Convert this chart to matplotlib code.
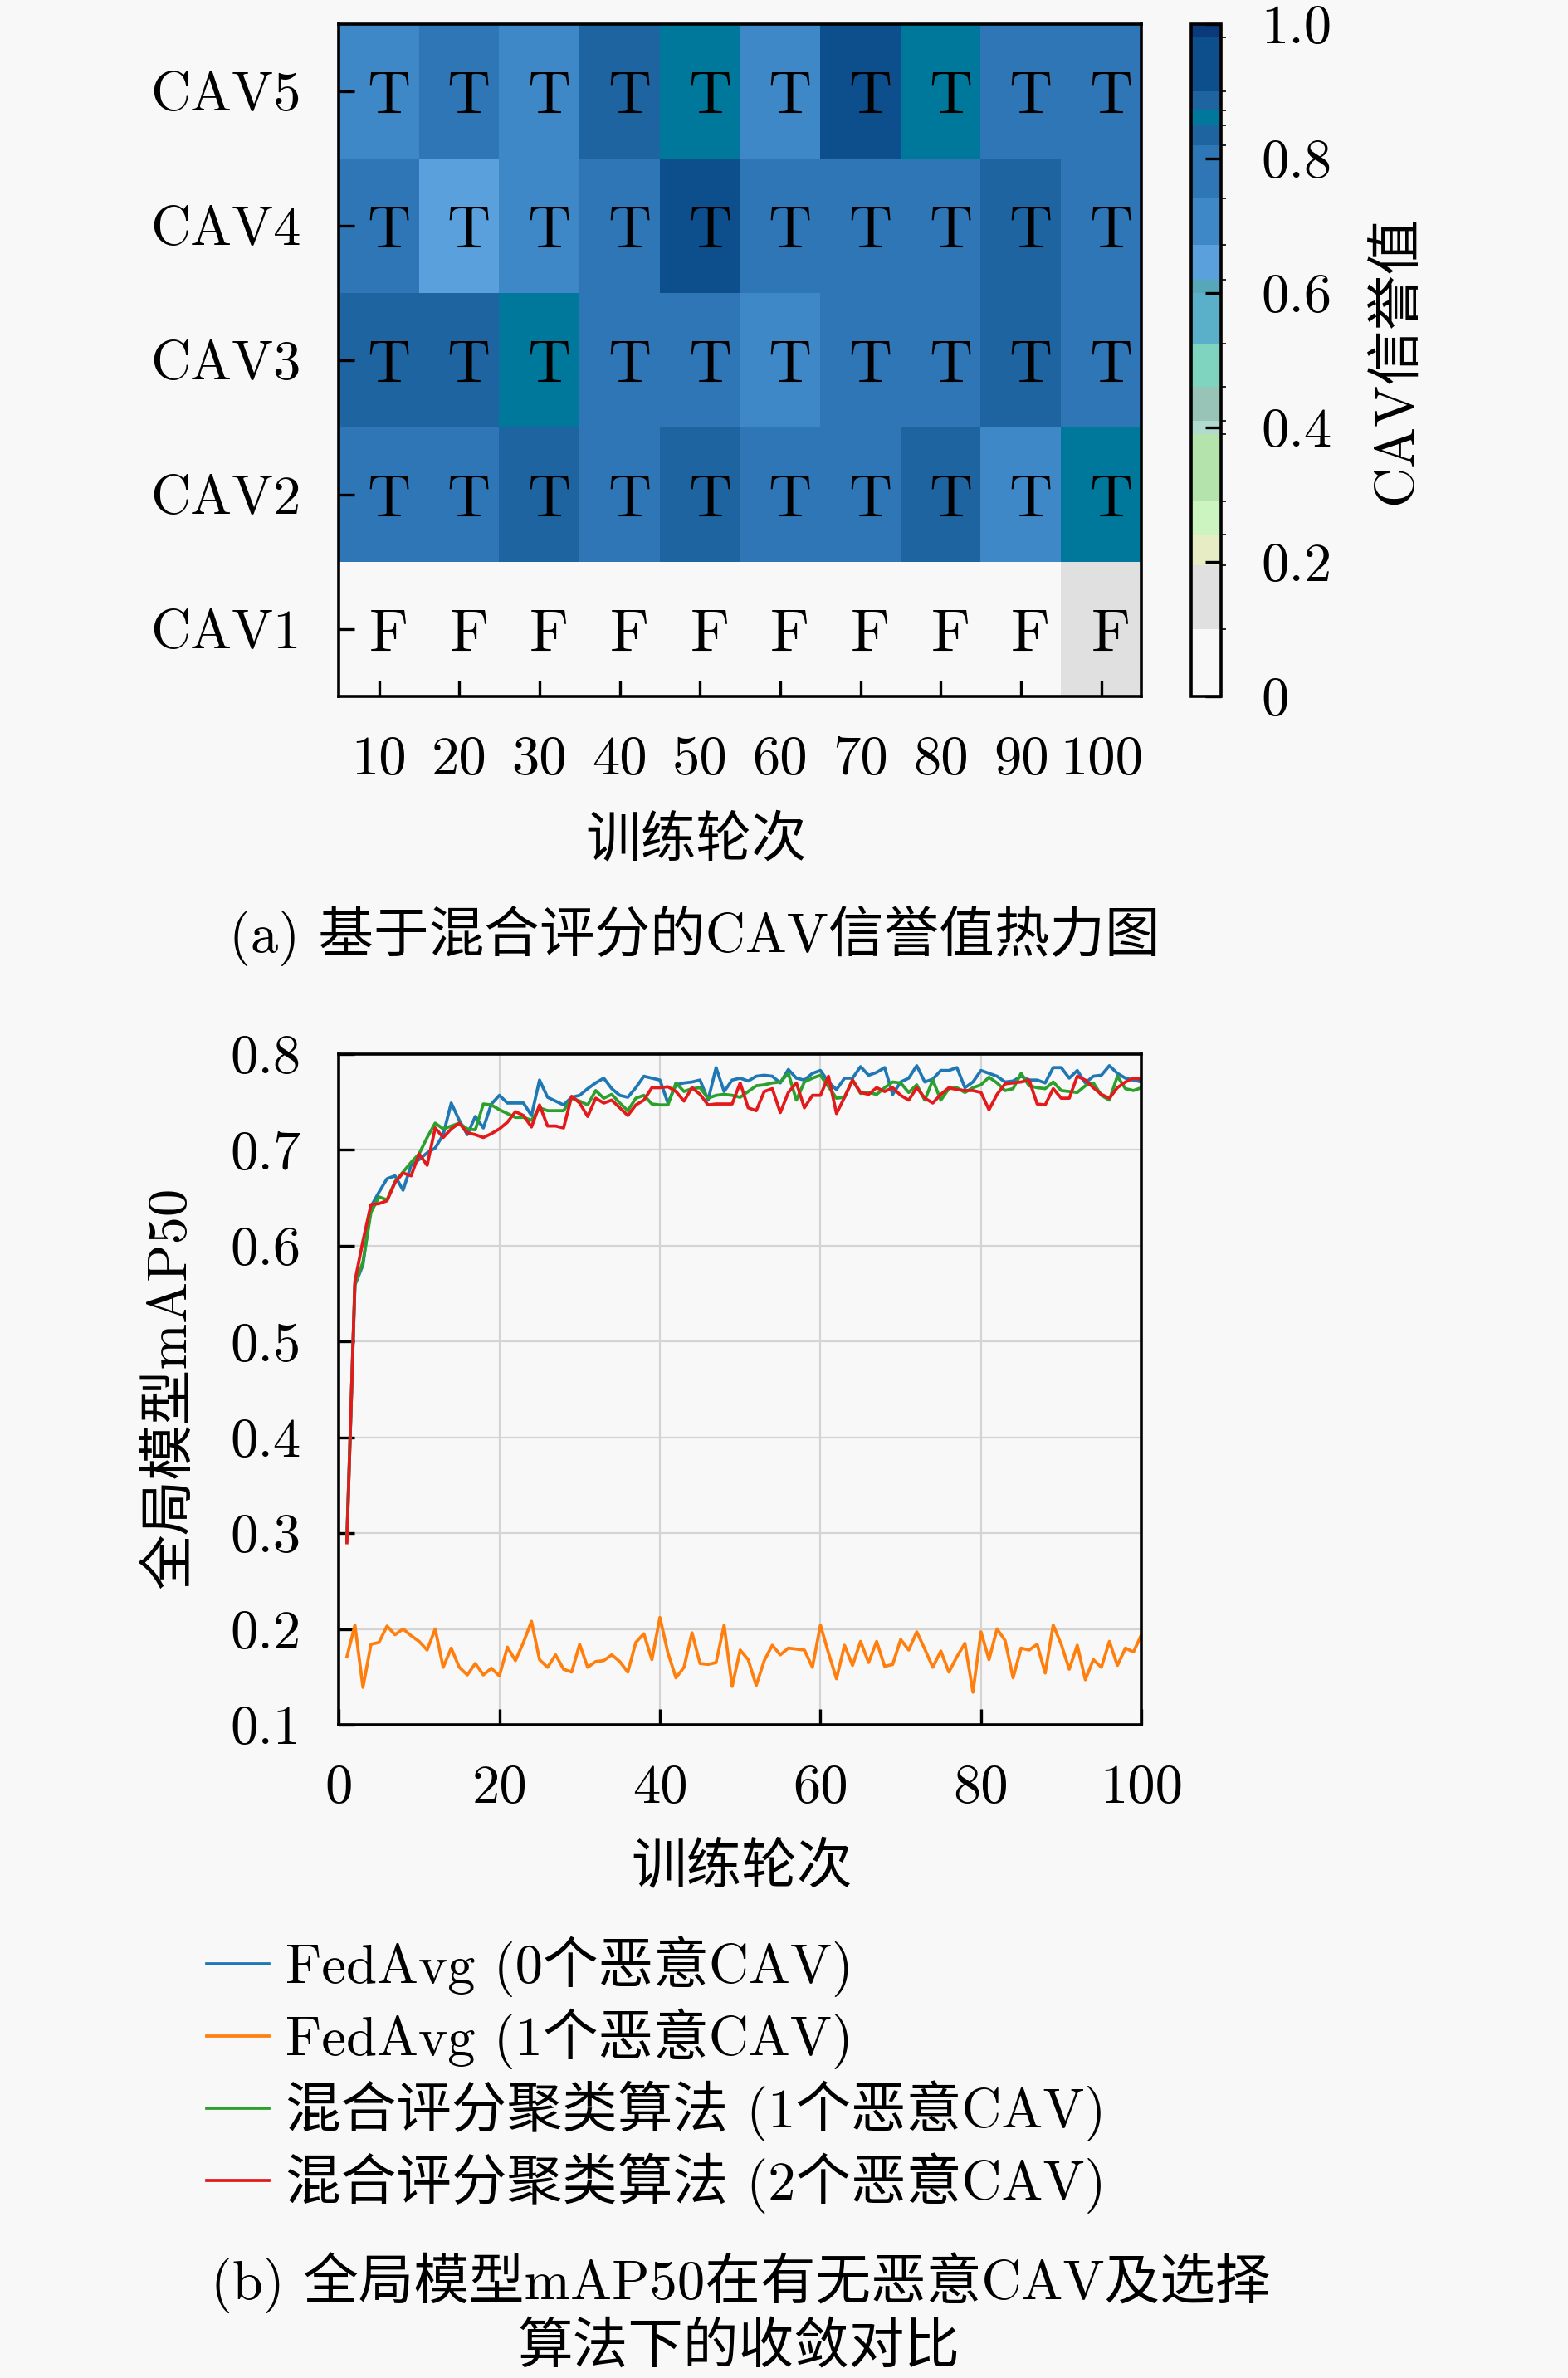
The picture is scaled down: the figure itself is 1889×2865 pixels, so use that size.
import matplotlib
matplotlib.use('Agg')
import matplotlib.pyplot as plt
from matplotlib.colors import ListedColormap, BoundaryNorm

plt.rcParams['font.family'] = ['cmr10', 'Noto Sans CJK SC']
plt.rcParams['axes.formatter.use_mathtext'] = True
plt.rcParams['mathtext.fontset'] = 'cm'
plt.rcParams['axes.unicode_minus'] = False

# ---- (a) heatmap data ----
rounds = [10, 20, 30, 40, 50, 60, 70, 80, 90, 100]
cav_names = ['CAV5', 'CAV4', 'CAV3', 'CAV2', 'CAV1']
rep_cav5 = [0.70, 0.78, 0.70, 0.835, 0.86, 0.70, 0.94, 0.86, 0.78, 0.78]
rep_cav4 = [0.78, 0.65, 0.70, 0.78, 0.94, 0.78, 0.78, 0.78, 0.835, 0.78]
rep_cav3 = [0.835, 0.835, 0.86, 0.78, 0.78, 0.70, 0.78, 0.78, 0.835, 0.78]
rep_cav2 = [0.78, 0.78, 0.835, 0.78, 0.835, 0.78, 0.78, 0.835, 0.70, 0.86]
rep_cav1 = [0.05, 0.05, 0.05, 0.05, 0.05, 0.05, 0.05, 0.05, 0.05, 0.15]
flag_cav5 = ['T'] * 10
flag_cav4 = ['T'] * 10
flag_cav3 = ['T'] * 10
flag_cav2 = ['T'] * 10
flag_cav1 = ['F'] * 10

# colour scale
cb_bounds = [0, 0.1, 0.195, 0.24, 0.29, 0.39, 0.41, 0.46, 0.525, 0.60, 0.62,
             0.672, 0.741, 0.82, 0.849, 0.872, 0.90, 0.98, 1.0]
cb_colors = ['#f8f8f8', '#e0e0e0', '#e8ecc4', '#ccf4c0', '#b4e4ac', '#b0dcd0',
             '#98c4b8', '#7ed4be', '#5ab0c8', '#56a8b8', '#5aa0dc', '#3f88c8',
             '#2f76b6', '#1d64a0', '#00789c', '#1d64a0', '#0c4f8c', '#0a3a7a']

# ---- (b) mAP50 curves ----
epochs = list(range(1, 101))
fedavg_0 = [0.295, 0.559, 0.580, 0.641, 0.656, 0.670, 0.673, 0.658, 0.684, 0.690,
            0.697, 0.702, 0.716, 0.749, 0.731, 0.716, 0.735, 0.723, 0.748, 0.757,
            0.749, 0.749, 0.749, 0.736, 0.773, 0.755, 0.751, 0.747, 0.755, 0.757,
            0.764, 0.770, 0.775, 0.764, 0.757, 0.755, 0.765, 0.777, 0.775, 0.773,
            0.749, 0.768, 0.770, 0.771, 0.773, 0.752, 0.786, 0.761, 0.773, 0.775,
            0.772, 0.777, 0.778, 0.777, 0.770, 0.784, 0.775, 0.773, 0.780, 0.783,
            0.771, 0.763, 0.775, 0.775, 0.787, 0.778, 0.781, 0.786, 0.758, 0.771,
            0.775, 0.788, 0.771, 0.774, 0.783, 0.783, 0.786, 0.765, 0.771, 0.783,
            0.780, 0.777, 0.771, 0.772, 0.777, 0.773, 0.773, 0.770, 0.786, 0.786,
            0.775, 0.783, 0.770, 0.777, 0.778, 0.788, 0.780, 0.775, 0.773, 0.771]
fedavg_1 = [0.171, 0.204, 0.139, 0.184, 0.186, 0.203, 0.194, 0.200, 0.193, 0.187,
            0.178, 0.200, 0.160, 0.180, 0.160, 0.152, 0.164, 0.152, 0.159, 0.151,
            0.181, 0.167, 0.186, 0.208, 0.168, 0.160, 0.173, 0.158, 0.155, 0.184,
            0.160, 0.166, 0.167, 0.173, 0.166, 0.155, 0.186, 0.195, 0.168, 0.212,
            0.175, 0.149, 0.160, 0.196, 0.164, 0.163, 0.165, 0.204, 0.140, 0.178,
            0.168, 0.141, 0.167, 0.183, 0.173, 0.180, 0.179, 0.178, 0.160, 0.204,
            0.175, 0.148, 0.183, 0.162, 0.187, 0.165, 0.187, 0.161, 0.163, 0.189,
            0.178, 0.197, 0.179, 0.160, 0.177, 0.155, 0.171, 0.185, 0.134, 0.197,
            0.168, 0.200, 0.188, 0.149, 0.180, 0.178, 0.184, 0.154, 0.204, 0.184,
            0.158, 0.183, 0.147, 0.168, 0.160, 0.187, 0.162, 0.180, 0.176, 0.194]
hybrid_1 = [0.292, 0.560, 0.583, 0.635, 0.651, 0.648, 0.667, 0.677, 0.687, 0.696,
            0.713, 0.728, 0.722, 0.725, 0.728, 0.722, 0.721, 0.748, 0.747, 0.742,
            0.738, 0.734, 0.734, 0.731, 0.744, 0.741, 0.741, 0.741, 0.754, 0.751,
            0.747, 0.762, 0.754, 0.758, 0.749, 0.741, 0.754, 0.757, 0.748, 0.747,
            0.747, 0.770, 0.761, 0.764, 0.765, 0.754, 0.757, 0.758, 0.757, 0.755,
            0.761, 0.767, 0.768, 0.770, 0.771, 0.780, 0.752, 0.771, 0.775, 0.778,
            0.766, 0.754, 0.755, 0.773, 0.759, 0.760, 0.758, 0.765, 0.771, 0.770,
            0.760, 0.768, 0.752, 0.773, 0.752, 0.764, 0.765, 0.760, 0.765, 0.768,
            0.776, 0.770, 0.762, 0.764, 0.780, 0.767, 0.765, 0.764, 0.771, 0.762,
            0.761, 0.760, 0.767, 0.770, 0.757, 0.752, 0.777, 0.764, 0.762, 0.765]
hybrid_2 = [0.290, 0.563, 0.605, 0.643, 0.644, 0.647, 0.666, 0.676, 0.673, 0.696,
            0.684, 0.723, 0.713, 0.722, 0.728, 0.718, 0.716, 0.713, 0.717, 0.722,
            0.729, 0.740, 0.736, 0.724, 0.747, 0.725, 0.725, 0.723, 0.756, 0.749,
            0.735, 0.754, 0.749, 0.752, 0.744, 0.736, 0.747, 0.752, 0.765, 0.765,
            0.766, 0.761, 0.751, 0.765, 0.758, 0.747, 0.748, 0.748, 0.748, 0.770,
            0.744, 0.741, 0.761, 0.764, 0.739, 0.760, 0.770, 0.744, 0.757, 0.757,
            0.777, 0.738, 0.755, 0.773, 0.760, 0.758, 0.765, 0.761, 0.765, 0.757,
            0.752, 0.765, 0.754, 0.749, 0.758, 0.765, 0.763, 0.762, 0.762, 0.760,
            0.742, 0.758, 0.769, 0.770, 0.771, 0.773, 0.748, 0.747, 0.764, 0.754,
            0.754, 0.777, 0.773, 0.765, 0.758, 0.754, 0.765, 0.771, 0.775, 0.774]
series_labels = ['FedAvg (0个恶意CAV)', 'FedAvg (1个恶意CAV)',
                 '混合评分聚类算法 (1个恶意CAV)', '混合评分聚类算法 (2个恶意CAV)']
series_colors = ['#1f77b4', '#ff7f0e', '#2ca02c', '#e31a1c']

bg = '#f8f8f8'
fs = 24

fig = plt.figure(figsize=(9.45, 14.325), dpi=200, facecolor=bg)

# ---------------- heatmap ----------------
rep = [rep_cav5, rep_cav4, rep_cav3, rep_cav2, rep_cav1]
flags = [flag_cav5, flag_cav4, flag_cav3, flag_cav2, flag_cav1]
cmap = ListedColormap(cb_colors)
norm = BoundaryNorm(cb_bounds, cmap.N)

ax1 = fig.add_axes([0.216, 0.7072, 0.5116, 0.2827])
im = ax1.imshow(rep, cmap=cmap, norm=norm, aspect='auto', interpolation='nearest')
for i in range(len(cav_names)):
    for j in range(len(rounds)):
        # the letters sit a little right of the cell centres in the original
        ax1.text(j + 0.12, i + 0.01, flags[i][j], ha='center', va='center_baseline',
                 fontsize=26, color='black')
ax1.set_xticks(range(len(rounds)))
ax1.set_xticklabels([str(r) for r in rounds])
ax1.set_yticks(range(len(cav_names)))
ax1.set_yticklabels(cav_names)
ax1.tick_params(direction='in', length=7, width=1.2, labelsize=fs)
ax1.tick_params(axis='x', pad=17)
ax1.tick_params(axis='y', pad=16.5)
for s in ax1.spines.values():
    s.set_linewidth(1.3)

cax = fig.add_axes([0.7593, 0.7072, 0.019, 0.2827])
cb = fig.colorbar(im, cax=cax, spacing='proportional', ticks=[0, 0.2, 0.4, 0.6, 0.8, 1.0])
cb.ax.set_yticklabels(['0', '0.2', '0.4', '0.6', '0.8', '1.0'])
cb.ax.tick_params(direction='in', length=7, width=1.2, labelsize=fs, pad=17.5)
cb.outline.set_linewidth(1.3)

fig.text(0.89, 0.8485, 'CAV信誉值', rotation=90, ha='center', va='center', fontsize=fs)
fig.text(0.4439, 0.6461, '训练轮次', ha='center', va='center', fontsize=fs)
fig.text(0.4429, 0.6066, '(a) 基于混合评分的CAV信誉值热力图', ha='center', va='center', fontsize=fs)

# ---------------- mAP50 curves ----------------
ax2 = fig.add_axes([0.216, 0.2747, 0.5116, 0.282])
ax2.set_facecolor(bg)
for ys, lab, col in zip([fedavg_0, fedavg_1, hybrid_1, hybrid_2], series_labels, series_colors):
    ax2.plot(epochs, ys, color=col, lw=1.35, label=lab)
ax2.set_xlim(0, 100)
ax2.set_ylim(0.1, 0.8)
ax2.set_xticks([0, 20, 40, 60, 80, 100])
ax2.set_xticklabels(['0', '20', '40', '60', '80', '100'])
ax2.set_yticks([0.1, 0.2, 0.3, 0.4, 0.5, 0.6, 0.7, 0.8])
ax2.set_yticklabels(['0.1', '0.2', '0.3', '0.4', '0.5', '0.6', '0.7', '0.8'])
ax2.grid(True, color='#d4d4d4', lw=0.8)
ax2.set_axisbelow(True)
ax2.tick_params(direction='in', length=7, width=1.2, labelsize=fs)
ax2.tick_params(axis='x', pad=17)
ax2.tick_params(axis='y', pad=16.5)
for s in ax2.spines.values():
    s.set_linewidth(1.3)

fig.text(0.1085, 0.4164, '全局模型mAP50', rotation=90, ha='center', va='center', fontsize=fs)
fig.text(0.473, 0.2143, '训练轮次', ha='center', va='center', fontsize=fs)

handles, labels = ax2.get_legend_handles_labels()
fig.legend(handles, labels, loc='upper left', bbox_to_anchor=(0.132, 0.1858),
           frameon=False, fontsize=fs, handlelength=1.12, handletextpad=0.3,
           labelspacing=0.2, borderpad=0, borderaxespad=0)

fig.text(0.472, 0.0401, '(b) 全局模型mAP50在有无恶意CAV及选择', ha='center', va='center', fontsize=fs)
fig.text(0.4709, 0.0126, '算法下的收敛对比', ha='center', va='center', fontsize=fs)

fig.savefig('out.png', dpi=200, facecolor=bg)
